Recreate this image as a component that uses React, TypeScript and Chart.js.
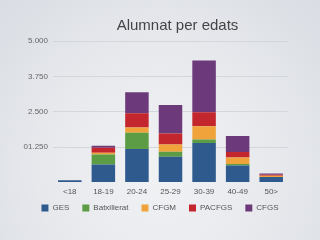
import React, { useEffect, useRef } from "react";
import { Chart, registerables } from "chart.js";

Chart.register(...registerables);

const TITLE = "Alumnat per edats";
const categories = ["<18", "18-19", "20-24", "25-29", "30-39", "40-49", "50>"];
const ges = [80, 640, 1180, 910, 1400, 605, 195];
const batxillerat = [0, 350, 575, 175, 120, 45, 0];
const cfgm = [0, 60, 190, 260, 470, 235, 45];
const pacfgs = [0, 175, 505, 390, 495, 190, 30];
const cfgs = [0, 70, 740, 1000, 1830, 565, 45];
const yTickLabels: Record<number, string> = { 0: "", 1250: "01.250", 2500: "2.500", 3750: "3.750", 5000: "5.000" };

const FONT = '"Liberation Sans", Arial, Helvetica, sans-serif';

const titlePlugin = {
  id: "customTitle",
  afterLayout(chart: any) {
    const lg = chart.legend;
    if (lg) {
      lg.top -= 6.5;
      lg.bottom -= 6.5;
    }
  },
  afterDraw(chart: any) {
    const { ctx, chartArea } = chart;
    ctx.save();
    ctx.font = `15px ${FONT}`;
    ctx.fillStyle = "#444";
    ctx.textAlign = "center";
    ctx.textBaseline = "middle";
    ctx.fillText(TITLE, (chartArea.left + chartArea.right) / 2 + 7, 26);
    ctx.restore();
  },
};

export default function App() {
  const ref = useRef<HTMLCanvasElement>(null);
  useEffect(() => {
    document.body.style.margin = "0";
    const mk = (label: string, data: number[], color: string) => ({
      label,
      data,
      backgroundColor: color,
      borderColor: color,
      borderWidth: 0,
      barPercentage: 0.7,
      categoryPercentage: 1,
      yAxisID: "y",
    });
    const chart = new Chart(ref.current!, {
      type: "bar",
      data: {
        labels: categories,
        datasets: [
          mk("GES", ges, "#2e5a8e"),
          mk("Batxillerat", batxillerat, "#5b9c45"),
          mk("CFGM", cfgm, "#f0a33a"),
          mk("PACFGS", pacfgs, "#c3262d"),
          mk("CFGS", cfgs, "#6c3a7a"),
        ],
      },
      options: {
        animation: false,
        responsive: false,
        maintainAspectRatio: false,
        layout: { padding: { top: 41, right: 0, left: 0, bottom: 11.5 } },
        plugins: {
          title: { display: false },
          tooltip: { enabled: false },
          legend: {
            position: "bottom",
            labels: {
              boxWidth: 7,
              boxHeight: 7,
              padding: 13,
              color: "#555",
              font: { size: 8, family: FONT },
            },
          },
        },
        scales: {
          x: {
            stacked: true,
            grid: { display: false, drawTicks: false },
            border: { display: false },
            ticks: { color: "#555", font: { size: 8, family: FONT }, padding: 4, maxRotation: 0 },
            afterFit: (s: any) => {
              s.height = 15;
            },
          },
          y: {
            stacked: true,
            min: 0,
            max: 5000,
            border: { display: false },
            grid: {
              drawTicks: false,
              color: (c: any) => (c.tick && c.tick.value === 0 ? "rgba(0,0,0,0)" : "#d3d6db"),
            },
            ticks: {
              stepSize: 1250,
              padding: 5,
              color: "#666",
              font: { size: 8, family: FONT },
              callback: (v: any) => yTickLabels[v as number] ?? "",
            },
            afterFit: (s: any) => {
              s.width = 53;
            },
          },
          y2: {
            type: "linear",
            position: "right",
            display: true,
            grid: { display: false },
            border: { display: false },
            ticks: { display: false },
            afterFit: (s: any) => {
              s.width = 32;
            },
          },
        },
      },
      plugins: [titlePlugin],
    });
    return () => chart.destroy();
  }, []);
  return (
    <div
      style={{
        width: 320,
        height: 240,
        background: "radial-gradient(ellipse at 50% 70%, #f1f2f4 0%, #e6e8ec 55%, #d9dce2 100%)",
      }}
    >
      <canvas ref={ref} width={320} height={240} style={{ display: "block" }} />
    </div>
  );
}
